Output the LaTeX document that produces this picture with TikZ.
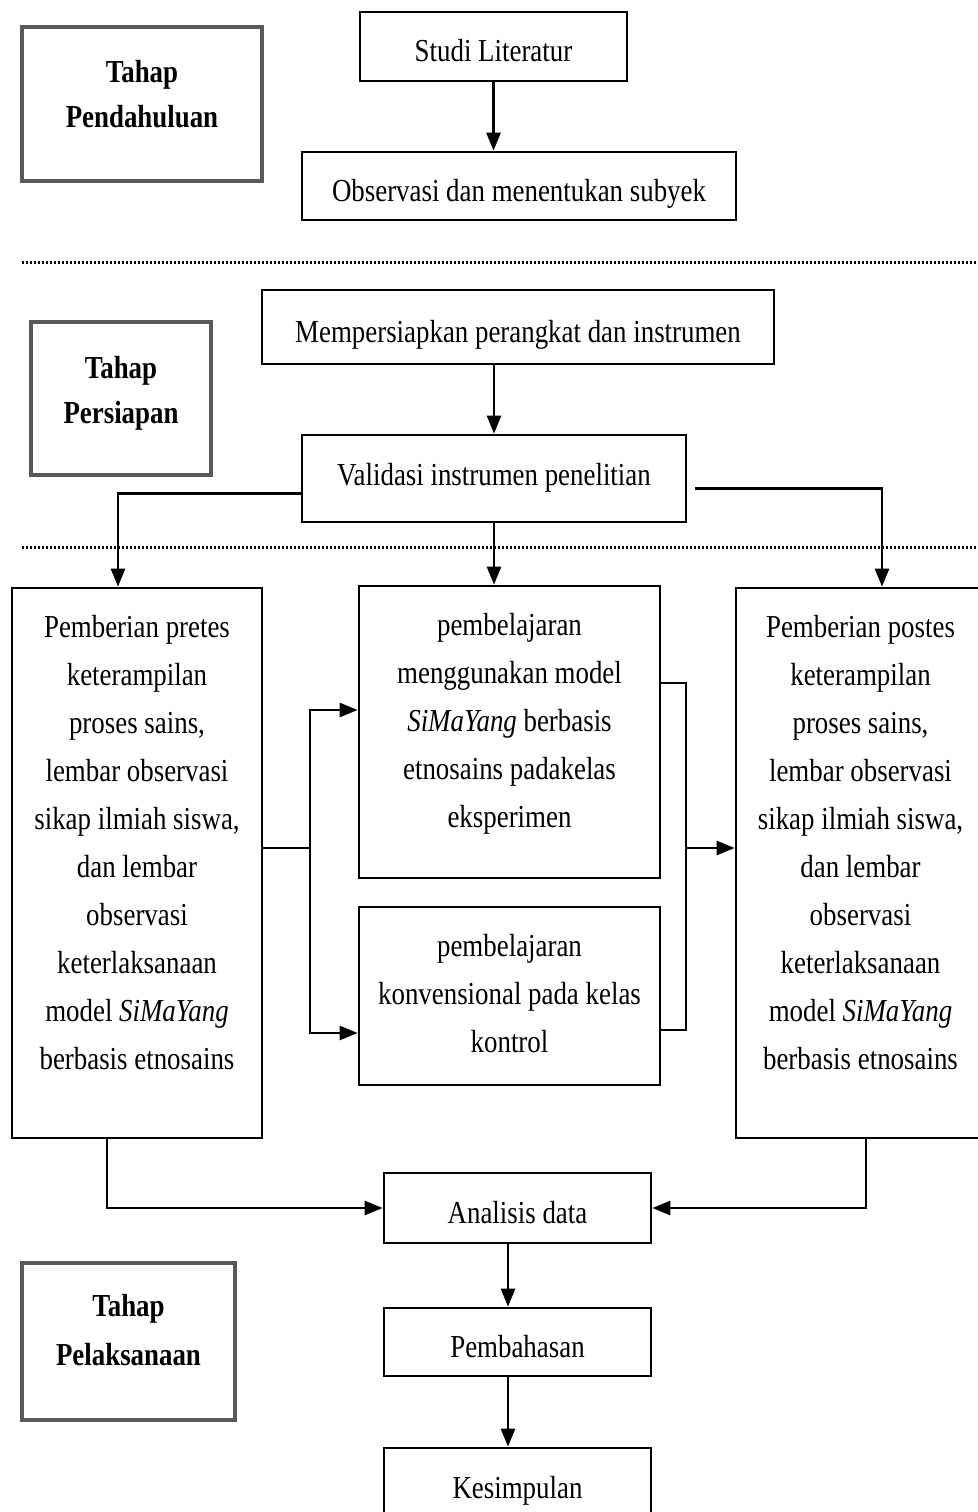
\documentclass[tikz,border=0pt]{standalone}
\usepackage{fontspec}
\setmainfont{Liberation Serif}[FakeStretch=0.84]
\usetikzlibrary{arrows.meta}
\tikzset{
  box/.style={draw,line width=.8pt,align=flush center,inner sep=2pt,
    text height=12pt,text depth=3pt,
    font=\fontsize{9.6pt}{14.4pt}\selectfont},
  tallbox/.style={box,text width=#1,text height=7.7pt,inner ysep=7pt},
  phase/.style={draw=black!65,line width=1pt,align=flush center,inner sep=2pt,
    font=\fontsize{9.6pt}{13.5pt}\selectfont\bfseries},
  dotline/.style={line width=.9pt,dash pattern=on .6pt off .6pt},
}
\begin{document}
\begin{tikzpicture}[>={Triangle[length=5.4pt,width=4.2pt]},line width=.75pt,x=.3pt,y=-.3pt]
 \useasboundingbox (0,0) rectangle (977,1512);
 \node[phase,minimum width=72pt,text width=68pt,text height=14.5pt,text depth=27.7pt] (pendahuluan) at (142,104) {Tahap\\Pendahuluan};
 \node[phase,minimum width=54pt,text width=50pt,text height=14.8pt,text depth=27.1pt] (persiapan) at (121,398.5) {Tahap\\Persiapan};
 \node[phase,minimum width=63.9pt,text width=59.9pt,text height=13.9pt,text depth=29.2pt,
  font=\fontsize{9.6pt}{14.7pt}\selectfont\bfseries] (pelaksanaan) at (128.5,1341.5) {Tahap\\Pelaksanaan};
 \node[box,minimum width=80.1pt,minimum height=20.7pt] (studi) at (493.5,46.5) {Studi Literatur};
 \node[box,minimum width=130.2pt,minimum height=20.4pt] (obs) at (519,186) {Observasi dan menentukan subyek};
 \node[box,minimum width=153.6pt,minimum height=22.2pt] (siap) at (518,327) {Mempersiapkan perangkat dan instrumen};
 \node[box,minimum width=115.2pt,minimum height=26.1pt,text height=9.5pt,text depth=5.5pt] (valid) at (494,478.5) {Validasi instrumen penelitian};
 \node[tallbox=70pt,minimum width=75pt,text depth=143.3pt] (pretes) at (137,863)
  {Pemberian pretes\\ keterampilan\\ proses sains,\\ lembar observasi\\ sikap ilmiah siswa,\\ dan lembar\\ observasi\\ keterlaksanaan\\ model \textit{SiMaYang}\\ berbasis etnosains};
 \node[tallbox=86pt,minimum width=90.3pt,text depth=65.9pt] (eksp) at (509.5,732)
  {pembelajaran\\ menggunakan model\\ \textit{SiMaYang} berbasis\\ etnosains padakelas\\ eksperimen};
 \node[tallbox=86pt,minimum width=90.3pt,text depth=31.7pt] (konv) at (509.5,996)
  {pembelajaran\\ konvensional pada kelas\\ kontrol};
 \node[tallbox=70pt,minimum width=74.7pt,text depth=143.3pt] (postes) at (860.5,863)
  {Pemberian postes\\ keterampilan\\ proses sains,\\ lembar observasi\\ sikap ilmiah siswa,\\ dan lembar\\ observasi\\ keterlaksanaan\\ model \textit{SiMaYang}\\ berbasis etnosains};
 \node[box,minimum width=80.1pt,minimum height=21pt] (analisis) at (517.5,1208) {Analisis data};
 \node[box,minimum width=80.1pt,minimum height=20.4pt] (bahas) at (517.5,1342) {Pembahasan};
 \node[box,minimum width=80.1pt,minimum height=21pt] (simpul) at (517.5,1483) {Kesimpulan};
 \draw[dotline] (22,262) -- (977,262);
 \draw[dotline] (22,547) -- (977,547);
 \coordinate (forkL) at (310,848);
 \coordinate (joinR) at (686,848);
 \draw[->] (studi.south) -- (studi.south |- obs.north);
 \draw[->] (valid.north |- siap.south) -- (valid.north);
 \draw[->] ([yshift=-4.5pt]valid.west) -| ([xshift=-5.7pt]pretes.north);
 \draw[->] (valid.south) -- (valid.south |- eksp.north);
 \draw[->] ([xshift=2.4pt,yshift=-3pt]valid.east) -| ([xshift=6.45pt]postes.north);
 \draw (pretes.east |- forkL) -- (forkL);
 \draw[->] (forkL) |- ([yshift=6.6pt]eksp.west);
 \draw[->] (forkL) |- ([yshift=-11.1pt]konv.west);
 \draw ([yshift=14.7pt]eksp.east) -| (joinR) |- ([yshift=-10.2pt]konv.east);
 \draw[->] (joinR) -- (joinR -| postes.west);
 \draw[->] ([xshift=-9pt]pretes.south) |- (analisis.west);
 \draw[->] ([xshift=1.65pt]postes.south) |- (analisis.east);
 \draw[->] ([xshift=-2.85pt]analisis.south) -- ([xshift=-2.85pt]bahas.north);
 \draw[->] ([xshift=-2.85pt]bahas.south) -- ([xshift=-2.85pt]simpul.north);
\end{tikzpicture}
\end{document}
